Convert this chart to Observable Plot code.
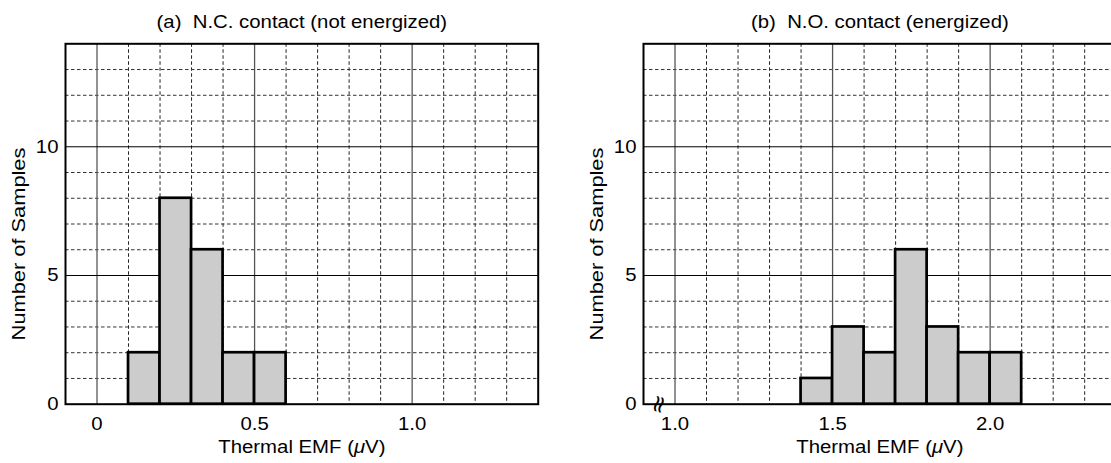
<!DOCTYPE html>
<html><head><meta charset="utf-8">
<script src="https://cdn.jsdelivr.net/npm/d3@7"></script>
<script src="https://cdn.jsdelivr.net/npm/@observablehq/plot@0.6"></script>
<style>
html,body{margin:0;padding:0;background:#fff;overflow:hidden;width:1111px;height:463px;}
#wrap{position:relative;width:1111px;height:463px;overflow:hidden;}
#wrap svg{position:absolute;top:0;}
</style></head><body><div id="wrap"></div>
<script>
// ---- data ----
const titles = ["(a)  N.C. contact (not energized)", "(b)  N.O. contact (energized)"];
const xLabel = "Thermal EMF (μV)";
const yLabel = "Number of Samples";
const binWidth = 0.1;
const ncBinStart = [0.1, 0.2, 0.3, 0.4, 0.5];
const ncCounts   = [2, 8, 6, 2, 2];
const noBinStart = [1.4, 1.5, 1.6, 1.7, 1.8, 1.9, 2.0];
const noCounts   = [1, 3, 2, 6, 3, 2, 2];
const ncXTicks = [0, 0.5, 1.0];
const noXTicks = [1.0, 1.5, 2.0];
const yTicks = [0, 5, 10];
const ncDomain = [-0.1, 1.4];
const noDomain = [0.9, 2.4];
const yDomain = [0, 14];
const axisBreakAt = [0.948];

const font = "'Liberation Sans', Arial, Helvetica, sans-serif";
const FS = 18.5;

function fmt(d){ return d === 0 ? "0" : d.toFixed(1); }

// widen glyphs in the text direction to match the reference's wide face
function stretch(el, s) {
  const x = el.getAttribute("x");
  if (x !== null && !isNaN(+x)) el.setAttribute("x", +x / s);
  const t = el.getAttribute("transform") || "";
  el.setAttribute("transform", `${t} scale(${s},1)`.trim());
}

function panel({title, starts, counts, domain, xTicks, left, breaks}) {
  const bins = starts.map((s, i) => ({x1: s, x2: +(s + binWidth).toFixed(2), n: counts[i]}));
  const xMinor = d3.range(Math.round(domain[0]*10) + 1, Math.round(domain[1]*10))
    .map(i => i/10).filter(v => !xTicks.some(t => Math.abs(t - v) < 1e-9));
  const yMinor = d3.range(1, yDomain[1]).filter(v => !yTicks.includes(v));
  const marks = [
    Plot.ruleX(xMinor, {stroke: "#222", strokeWidth: 1, strokeDasharray: "3.5,2.5"}),
    Plot.ruleY(yMinor, {stroke: "#333", strokeWidth: 1, strokeDasharray: "3.5,2.5"}),
    Plot.ruleX(xTicks, {stroke: "#555", strokeWidth: 1.3}),
    Plot.ruleY(yTicks.filter(v => v > 0), {stroke: "#000", strokeWidth: 1}),
    Plot.rectY(bins, {x1: "x1", x2: "x2", y: "n", fill: "#cccccc", stroke: "#000", strokeWidth: 2.7}),
    Plot.frame({stroke: "#000", strokeWidth: 2}),
    Plot.text([title], {text: d => d, frameAnchor: "top", lineAnchor: "middle", dy: -22, fontSize: FS}),
    Plot.text([xLabel], {text: d => d, frameAnchor: "bottom", lineAnchor: "middle", dy: 43, fontSize: FS}),
    Plot.text([yLabel], {text: d => d, frameAnchor: "left", textAnchor: "middle", lineAnchor: "middle", dx: -46, dy: 20, rotate: -90, fontSize: FS})
  ];
  if (breaks) marks.push(Plot.text(breaks, {x: d => d, y: () => 0, text: () => "≈", rotate: -75, fontSize: 24, fill: "#000", fontFamily: "DejaVu Sans"}));
  const svg = Plot.plot({
    width: 560, height: 463,
    marginLeft: 65, marginRight: 22.3, marginTop: 43.3, marginBottom: 59.3,
    style: {fontFamily: font, fontSize: FS + "px", color: "#000", background: "transparent", overflow: "visible"},
    x: {domain, ticks: xTicks, tickFormat: fmt, tickSize: 0, tickPadding: 12.5, label: null},
    y: {domain: yDomain, ticks: yTicks, tickSize: 0, tickPadding: 7, label: null},
    marks
  });
  const s = d3.select(svg);
  s.selectAll("text").filter(function(){ return this.textContent === xLabel; })
    .each(function(){
      const t = d3.select(this); t.text("");
      t.append("tspan").text("Thermal EMF (");
      t.append("tspan").attr("font-style", "italic").text("μ");
      t.append("tspan").text("V)");
    });
  s.selectAll("text").filter(function(){ return this.textContent === title; })
    .style("white-space", "pre");
  s.selectAll("text").each(function(){
    const txt = this.textContent;
    if (txt === "≈") return;
    let k = 1.1;
    if (txt === yLabel) k = 1.18;
    stretch(this, k);
  });
  svg.style.left = left + "px";
  document.getElementById("wrap").appendChild(svg);
}

panel({title: titles[0], starts: ncBinStart, counts: ncCounts, domain: ncDomain, xTicks: ncXTicks, left: 0});
panel({title: titles[1], starts: noBinStart, counts: noCounts, domain: noDomain, xTicks: noXTicks, left: 578.3, breaks: axisBreakAt});
</script></body></html>
